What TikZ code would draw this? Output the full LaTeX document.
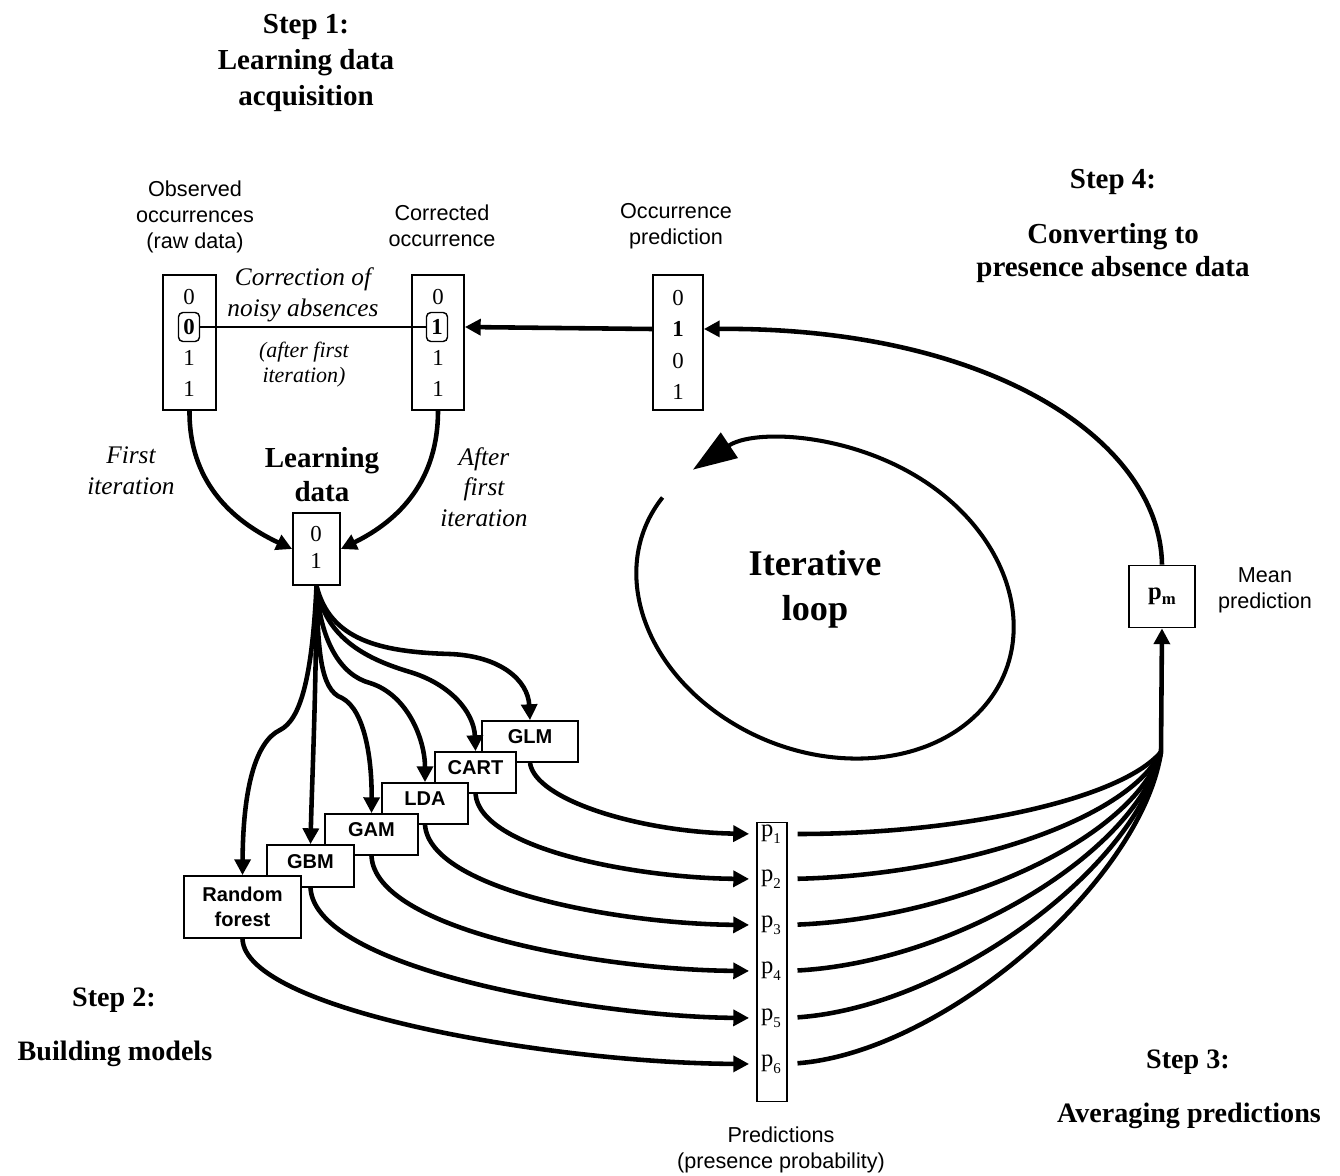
\documentclass[tikz,border=0pt]{standalone}
\usepackage{fontspec}
\setmainfont{Liberation Serif}
\setsansfont{Liberation Sans}
\usetikzlibrary{arrows.meta}
\newcommand{\psub}[1]{p\raisebox{-0.28em}{\fontsize{8.5}{9}\selectfont #1}}
\begin{document}
\begin{tikzpicture}[x=0.02cm,y=-0.02cm,
  hd/.style={font=\bfseries\fontsize{16.5}{20.4}\selectfont, align=center, inner sep=0},
  hdb/.style={font=\bfseries\fontsize{16}{19.3}\selectfont, align=center, inner sep=0},
  sl/.style={font=\sffamily\fontsize{12.3}{14.7}\selectfont, align=center, inner sep=0},
  itl/.style={font=\itshape\fontsize{14.4}{17.6}\selectfont, align=center, inner sep=0},
  its/.style={font=\itshape\fontsize{12.5}{14.2}\selectfont, align=center, inner sep=0},
  dg/.style={font=\fontsize{13}{14}\selectfont, inner sep=0},
  bdg/.style={dg, font=\bfseries\fontsize{13}{14}\selectfont, draw, line width=0.8pt, rounded corners=2.5pt, minimum width=0.42cm, minimum height=0.58cm},
  pl/.style={font=\fontsize{14}{15}\selectfont, inner sep=0},
  box/.style={draw, line width=1pt, inner sep=0, fill=white},
  mdl/.style={box, font=\sffamily\bfseries\fontsize{11.4}{14}\selectfont, align=center},
  mdlt/.style={mdl, text height=8pt, text depth=5.6pt},
  conn/.style={line width=2.6pt},
  arr/.style={conn, -{Triangle[length=9pt,width=9pt]}},
  thinl/.style={line width=0.7pt}
]
\useasboundingbox (0,0) rectangle (1340,1176);

% headings and labels
\node[hd] (step1) at (306,63) {Step 1:\\Learning data\\acquisition};
\node[hd] (step4) at (1113,182) {Step 4:};
\node[hd, font=\bfseries\fontsize{16.5}{19.3}\selectfont] (step4t) at (1113,253) {Converting to\\presence absence data};
\node[hdb] (step2) at (114,1000) {Step 2:};
\node[hdb] (step2t) at (115,1054) {Building models};
\node[hdb] (step3) at (1188,1062) {Step 3:};
\node[hdb] (step3t) at (1189,1116) {Averaging predictions};

\node[sl] (obsl) at (195,217) {Observed\\occurrences\\(raw data)};
\node[sl] (corl) at (442,226) {Corrected\\occurrence};
\node[sl] (occl) at (676,226) {Occurrence\\prediction};
\node[sl] (meanl) at (1265,590) {Mean\\prediction};
\node[sl] (predl) at (781,1150) {Predictions\\(presence probability)};

\node[itl] (corr) at (303,295) {Correction of\\noisy absences};
\node[its] (after) at (304,365) {(after first\\iteration)};
\node[itl] (first) at (131,471) {First\\iteration};
\node[itl, font=\itshape\fontsize{14.4}{17.3}\selectfont] (afterfirst) at (484,487) {After\\first\\iteration};
\node[hd, font=\bfseries\fontsize{16.5}{19.3}\selectfont] (ldl) at (322,475) {Learning\\data};
\node[font=\bfseries\fontsize{20.6}{25.5}\selectfont, align=center, inner sep=0] (loop) at (815,589) {Iterative\\loop};

% data boxes
\node[box, minimum width=1.06cm, minimum height=2.7cm] (obs) at (189.5,342.5) {};
\node[box, minimum width=1.04cm, minimum height=2.7cm] (cor) at (438,342.5) {};
\node[box, minimum width=1.0cm, minimum height=2.7cm] (occ) at (678,342.5) {};
\node[box, minimum width=0.94cm, minimum height=1.44cm] (ld) at (316.5,549) {};
\node[box, minimum width=0.6cm, minimum height=5.58cm] (pbox) at (772,962) {};
\node[box, minimum width=1.32cm, minimum height=1.24cm, font=\bfseries\fontsize{14}{15}\selectfont] (pm) at (1162,596.5) {p\raisebox{-0.2em}{\fontsize{9.5}{10}\selectfont m}};

\node[dg] (o1) at (189,297) {0};
\node[bdg] (o2) at (189,327) {0};
\node[dg] (o3) at (189,358) {1};
\node[dg] (o4) at (189,389) {1};
\node[dg] (c1) at (438,297) {0};
\node[bdg] (c2) at (437,327) {1};
\node[dg] (c3) at (438,358) {1};
\node[dg] (c4) at (438,389) {1};
\node[dg] (q1) at (678,298) {0};
\node[dg, font=\bfseries\fontsize{13}{14}\selectfont] (q2) at (678,329) {1};
\node[dg] (q3) at (678,361) {0};
\node[dg] (q4) at (678,392) {1};
\node[dg] (l1) at (316,534) {0};
\node[dg] (l2) at (316,561) {1};

\node[pl] (p1) at (771,834) {\psub{1}};
\node[pl] (p2) at (771,879) {\psub{2}};
\node[pl] (p3) at (771,925) {\psub{3}};
\node[pl] (p4) at (771,971) {\psub{4}};
\node[pl] (p5) at (771,1018) {\psub{5}};
\node[pl] (p6) at (771,1064) {\psub{6}};

% model boxes
\node[mdlt, minimum width=1.92cm, minimum height=0.82cm] (glm) at (530,741.5) {GLM};
\node[mdlt, minimum width=1.62cm, minimum height=0.82cm] (cart) at (475.5,772.5) {CART};
\node[mdlt, minimum width=1.72cm, minimum height=0.82cm] (lda) at (425,803.5) {LDA};
\node[mdlt, minimum width=1.86cm, minimum height=0.82cm] (gam) at (371.5,834.5) {GAM};
\node[mdlt, minimum width=1.74cm, minimum height=0.84cm] (gbm) at (310.5,866) {GBM};
\node[mdl, minimum width=2.34cm, minimum height=1.24cm] (rf) at (242.5,907) {Random\\forest};

% step 1 connectors
\draw[thinl] (o2.east) -- (c2.west);
\draw[arr] (occ.west |- q2) -- (cor.east |- c2);
\draw[arr] (obs.south) .. controls (189,480) and (230,520) .. (ld.west);
\draw[arr] (cor.south) .. controls (438,480) and (400,520) .. (ld.east);

% branches to models
\draw[arr] (ld.south) .. controls (330,640) and (380,652) .. (450,654) .. controls (500,656) and (528,680) .. (glm.north);
\draw[arr] (ld.south) .. controls (325,640) and (370,660) .. (410,672) .. controls (450,684) and (474,712) .. (cart.north);
\draw[arr] (ld.south) .. controls (320,640) and (340,675) .. (370,683) .. controls (408,695) and (425,740) .. (lda.north);
\draw[arr] (ld.south) .. controls (318,650) and (320,690) .. (342,698) .. controls (365,710) and (372,760) .. (gam.north);
\draw[arr] (ld.south) .. controls (316,700) and (312,780) .. (gbm.north);
\draw[arr] (ld.south) .. controls (312,680) and (300,720) .. (280,730) .. controls (255,742) and (243,790) .. (rf.north);

% models to predictions
\draw[arr, shorten >=4pt] (glm.south) .. controls (535,800) and (640,832) .. (pbox.west |- p1);
\draw[arr, shorten >=4pt] (cart.south) .. controls (480,850) and (640,878) .. (pbox.west |- p2);
\draw[arr, shorten >=4pt] (lda.south) .. controls (430,890) and (620,924) .. (pbox.west |- p3);
\draw[arr, shorten >=4pt] (gam.south) .. controls (375,930) and (600,970) .. (pbox.west |- p4);
\draw[arr, shorten >=4pt] (gbm.south) .. controls (315,970) and (600,1017) .. (pbox.west |- p5);
\draw[arr, shorten >=4pt] (rf.south) .. controls (245,1010) and (550,1063) .. (pbox.west |- p6);

% predictions to mean
\coordinate (J) at (1161,752);
\draw[conn, shorten <=5.5pt] (pbox.east |- p1) .. controls (960,834) and (1120,800) .. (J);
\draw[conn, shorten <=5.5pt] (pbox.east |- p2) .. controls (960,875) and (1128,820) .. (J);
\draw[conn, shorten <=5.5pt] (pbox.east |- p3) .. controls (960,918) and (1133,838) .. (J);
\draw[conn, shorten <=5.5pt] (pbox.east |- p4) .. controls (955,962) and (1137,852) .. (J);
\draw[conn, shorten <=5.5pt] (pbox.east |- p5) .. controls (950,1007) and (1140,865) .. (J);
\draw[conn, shorten <=5.5pt] (pbox.east |- p6) .. controls (945,1052) and (1142,880) .. (J);
\draw[arr] (J) -- (pm.south);

% back to occurrence prediction
\draw[arr] (pm.north) .. controls (1160,440) and (990,327) .. (occ.east |- q2);

% iterative loop
\draw[line width=2.3pt, -{Triangle[length=25pt,width=17pt]}, shift={(825,600)}, rotate=-22]
  (193:194 and 152) arc[start angle=193, end angle=-152, x radius=194, y radius=152];
\end{tikzpicture}
\end{document}
